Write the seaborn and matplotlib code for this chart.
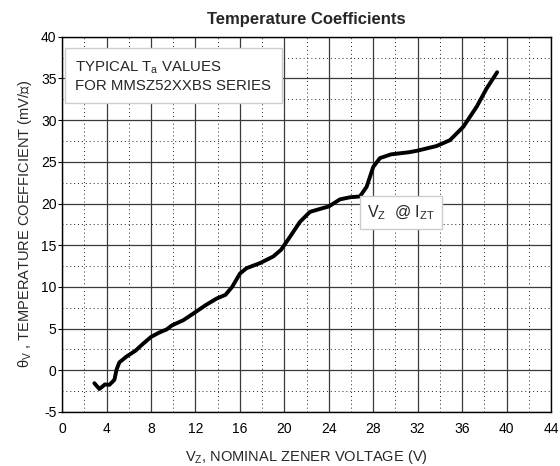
import matplotlib
matplotlib.use("Agg")
import matplotlib.pyplot as plt
import numpy as np
import pandas as pd
import seaborn as sns

# curve (Vz in volts, theta in mV/degC)
vz = [2.9, 3.35, 3.85, 4.25, 4.7, 4.9, 5.15, 5.8, 6.6, 7.3, 8.0, 8.7, 9.4, 9.9,
      10.9, 11.8, 12.9, 13.9, 14.7, 15.3, 16.0, 16.6, 17.8, 19.0, 19.7, 20.5,
      21.4, 22.3, 23.2, 24.0, 25.0, 25.9, 26.8, 27.4, 28.0, 28.6, 29.6, 31.2,
      32.0, 33.7, 34.9, 36.1, 37.3, 38.2, 39.15]
theta = [-1.55, -2.25, -1.7, -1.75, -1.15, 0.1, 0.95, 1.65, 2.35, 3.2, 4.0, 4.5,
         4.9, 5.4, 6.0, 6.8, 7.8, 8.6, 9.05, 10.0, 11.6, 12.25, 12.85, 13.65,
         14.45, 16.0, 17.8, 19.0, 19.35, 19.65, 20.5, 20.75, 20.85, 22.0, 24.4,
         25.45, 25.9, 26.15, 26.35, 26.9, 27.6, 29.2, 31.6, 33.8, 35.75]

x_ticks = [0, 4, 8, 12, 16, 20, 24, 28, 32, 36, 40, 44]
y_ticks = [-5, 0, 5, 10, 15, 20, 25, 30, 35, 40]

sns.set_style("ticks")
plt.rcParams["font.family"] = ["Liberation Sans", "DejaVu Sans"]
plt.rcParams["mathtext.fontset"] = "custom"
plt.rcParams["mathtext.rm"] = "Liberation Sans"
plt.rcParams["mathtext.it"] = "Liberation Sans:italic"
plt.rcParams["axes.unicode_minus"] = False

df = pd.DataFrame({"vz": vz, "theta": theta})

fig = plt.figure(figsize=(5.6, 4.66), dpi=100)
ax = fig.add_axes([0.111, 0.116, 0.873, 0.805])

sns.lineplot(data=df, x="vz", y="theta", sort=False, color="black",
             linewidth=2.8, ax=ax)

ax.set_xlim(0, 44)
ax.set_ylim(-5, 40)
ax.set_xticks(x_ticks)
ax.set_yticks(y_ticks)
ax.set_xticks(np.arange(2, 44, 4), minor=True)
ax.set_yticks(np.arange(-2.5, 40, 5), minor=True)
ax.tick_params(axis="both", which="major", labelsize=10, colors="black")
ax.tick_params(axis="x", which="major", length=0, pad=7)
ax.tick_params(axis="y", which="major", length=3, width=0.8, pad=1)
ax.tick_params(which="minor", length=0)

ax.grid(which="major", color="#3a3a3a", linewidth=0.9)
ax.grid(which="minor", color="#222222", linewidth=0.7, linestyle=(0, (1, 3)))
ax.set_axisbelow(True)
for sp in ax.spines.values():
    sp.set_color("black")
    sp.set_linewidth(1.0)
    sp.set_visible(True)

ax.set_xlabel(r"V$_\mathrm{Z}$, NOMINAL ZENER VOLTAGE (V)", fontsize=10.5,
              labelpad=9)
ax.set_ylabel(r"θ$_\mathrm{V}$ , TEMPERATURE COEFFICIENT (mV/℃)", fontsize=10.5,
              labelpad=5)
ax.set_title("Temperature Coefficients", fontsize=12, fontweight="bold", pad=9)

ax.text(1.2, 35.3, "TYPICAL T$_\\mathrm{a}$ VALUES\nFOR MMSZ52XXBS SERIES",
        fontsize=10.8, ha="left", va="center", linespacing=1.25,
        bbox=dict(boxstyle="square,pad=0.7", facecolor="white",
                  edgecolor="#cccccc", linewidth=1.0))
ax.text(30.5, 18.9, r"V$_\mathrm{Z}$  @ I$_\mathrm{ZT}$", fontsize=11.5,
        ha="center", va="center",
        bbox=dict(boxstyle="square,pad=0.45", facecolor="white",
                  edgecolor="#cccccc", linewidth=1.0))

fig.savefig("out.png", dpi=100)
